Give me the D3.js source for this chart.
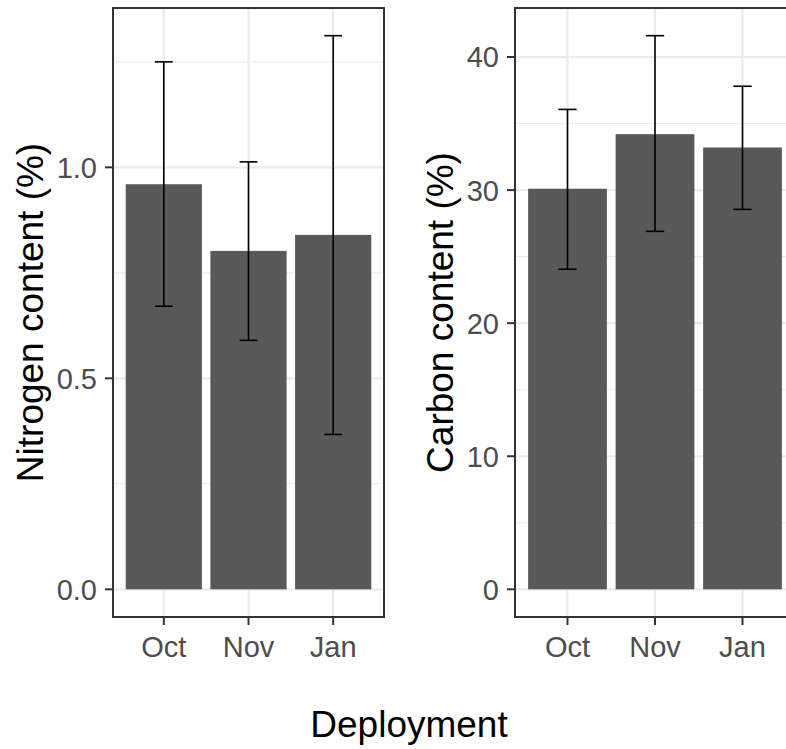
<!DOCTYPE html>
<html>
<head>
<meta charset="utf-8">
<script src="https://cdn.jsdelivr.net/npm/d3@7"></script>
<style>
  body { margin: 0; background: #fff; }
  text { font-family: "Liberation Sans", Arial, sans-serif; }
</style>
</head>
<body>
<div id="chart"></div>
<script>
const deployments = ["Oct", "Nov", "Jan"];

const nitrogenMean = [0.960, 0.802, 0.840];
const nitrogenLow = [0.671, 0.590, 0.367];
const nitrogenHigh = [1.250, 1.013, 1.312];
const nitrogenTicks = [0, 0.5, 1.0];
const nitrogenMinor = [0.25, 0.75, 1.25];

const carbonMean = [30.1, 34.2, 33.2];
const carbonLow = [24.05, 26.9, 28.55];
const carbonHigh = [36.06, 41.6, 37.8];
const carbonTicks = [0, 10, 20, 30, 40];
const carbonMinor = [5, 15, 25, 35];

const width = 786, height = 749;
const panelTop = 8, panelBottom = 617;
const tickFont = 29, titleFont = 37;

const svg = d3.select("#chart")
    .append("svg")
    .attr("width", width)
    .attr("height", height);

const drawPanel = (p) => {
    const g = svg.append("g");

    const xScale = d3.scalePoint()
        .domain(deployments)
        .range([p.left, p.right])
        .padding(0.6);
    const step = xScale.step();

    // ggplot style 5% expansion on [0, max]
    const hi = d3.max(p.high);
    const yScale = d3.scaleLinear()
        .domain([-0.05 * hi, 1.05 * hi])
        .range([panelBottom, panelTop]);

    const rows = deployments.map((d, i) => ({
        cat: d, mean: p.mean[i], low: p.low[i], high: p.high[i]
    }));

    // grid
    g.selectAll(".minor")
        .data(p.minor)
        .join("line")
        .attr("x1", p.left).attr("x2", p.right)
        .attr("y1", (d) => yScale(d)).attr("y2", (d) => yScale(d))
        .attr("stroke", "#EBEBEB")
        .attr("stroke-width", 1.1);

    g.selectAll(".majorY")
        .data(p.ticks)
        .join("line")
        .attr("x1", p.left).attr("x2", p.right)
        .attr("y1", (d) => yScale(d)).attr("y2", (d) => yScale(d))
        .attr("stroke", "#EBEBEB")
        .attr("stroke-width", 2.2);

    g.selectAll(".majorX")
        .data(deployments)
        .join("line")
        .attr("x1", (d) => xScale(d)).attr("x2", (d) => xScale(d))
        .attr("y1", panelTop).attr("y2", panelBottom)
        .attr("stroke", "#EBEBEB")
        .attr("stroke-width", 2.2);

    // bars
    g.selectAll(".bar")
        .data(rows)
        .join("rect")
        .attr("x", (d) => xScale(d.cat) - step * 0.45)
        .attr("width", step * 0.9)
        .attr("y", (d) => yScale(d.mean))
        .attr("height", (d) => yScale(0) - yScale(d.mean))
        .attr("fill", "#595959");

    // error bars
    const eb = g.selectAll(".eb")
        .data(rows)
        .join("g")
        .attr("stroke", "#000")
        .attr("stroke-width", 1.6);
    eb.append("line")
        .attr("x1", (d) => xScale(d.cat)).attr("x2", (d) => xScale(d.cat))
        .attr("y1", (d) => yScale(d.low)).attr("y2", (d) => yScale(d.high));
    eb.append("line")
        .attr("x1", (d) => xScale(d.cat) - step * 0.105).attr("x2", (d) => xScale(d.cat) + step * 0.105)
        .attr("y1", (d) => yScale(d.high)).attr("y2", (d) => yScale(d.high));
    eb.append("line")
        .attr("x1", (d) => xScale(d.cat) - step * 0.105).attr("x2", (d) => xScale(d.cat) + step * 0.105)
        .attr("y1", (d) => yScale(d.low)).attr("y2", (d) => yScale(d.low));

    // border
    g.append("rect")
        .attr("x", p.left).attr("y", panelTop)
        .attr("width", p.right - p.left)
        .attr("height", panelBottom - panelTop)
        .attr("fill", "none")
        .attr("stroke", "#333333")
        .attr("stroke-width", 2);

    // y axis
    const yAxis = g.append("g");
    yAxis.selectAll("line")
        .data(p.ticks)
        .join("line")
        .attr("x1", p.left - 8).attr("x2", p.left)
        .attr("y1", (d) => yScale(d)).attr("y2", (d) => yScale(d))
        .attr("stroke", "#333333")
        .attr("stroke-width", 2);
    const yLabels = yAxis.selectAll("text")
        .data(p.ticks)
        .join("text")
        .attr("x", p.left - 16)
        .attr("y", (d) => yScale(d))
        .attr("dy", "0.36em")
        .attr("text-anchor", "end")
        .attr("fill", "#4D4D4D")
        .style("font-size", tickFont + "px")
        .text((d) => p.format(d));

    // x axis
    g.selectAll(".xt")
        .data(deployments)
        .join("line")
        .attr("x1", (d) => xScale(d)).attr("x2", (d) => xScale(d))
        .attr("y1", panelBottom).attr("y2", panelBottom + 8)
        .attr("stroke", "#333333")
        .attr("stroke-width", 2);
    g.selectAll(".xl")
        .data(deployments)
        .join("text")
        .attr("x", (d) => xScale(d))
        .attr("y", 657)
        .attr("text-anchor", "middle")
        .attr("fill", "#4D4D4D")
        .style("font-size", tickFont + "px")
        .text((d) => d);

    // y title placed left of the widest tick label
    const labelLeft = d3.min(yLabels.nodes(), (n) => n.getBBox().x);
    const tx = labelLeft - 14;
    const ty = (panelTop + panelBottom) / 2;
    g.append("text")
        .attr("transform", `translate(${tx},${ty}) rotate(-90)`)
        .attr("text-anchor", "middle")
        .attr("fill", "#000")
        .style("font-size", titleFont + "px")
        .text(p.title);
};

drawPanel({
    left: 113, right: 384,
    mean: nitrogenMean, low: nitrogenLow, high: nitrogenHigh,
    ticks: nitrogenTicks, minor: nitrogenMinor,
    format: d3.format(".1f"),
    title: "Nitrogen content (%)"
});

drawPanel({
    left: 515, right: 795,
    mean: carbonMean, low: carbonLow, high: carbonHigh,
    ticks: carbonTicks, minor: carbonMinor,
    format: d3.format("d"),
    title: "Carbon content (%)"
});

svg.append("text")
    .attr("x", 409)
    .attr("y", 737)
    .attr("text-anchor", "middle")
    .attr("fill", "#000")
    .style("font-size", titleFont + "px")
    .text("Deployment");
</script>
</body>
</html>
